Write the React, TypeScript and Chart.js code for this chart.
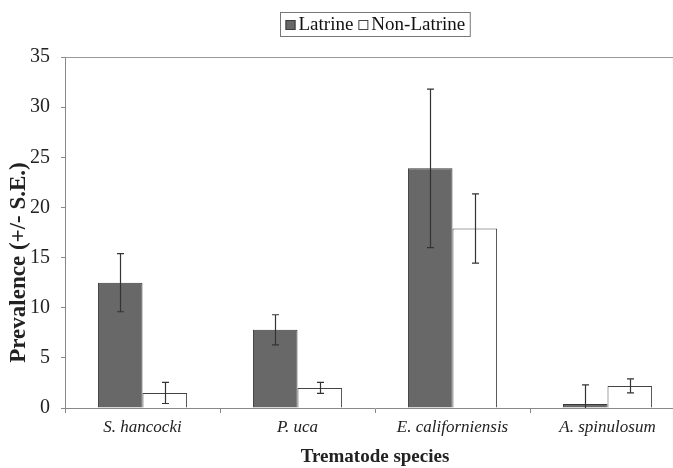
import React, { useEffect, useRef } from "react";
import { Chart, registerables } from "chart.js";

Chart.register(...registerables);

const categories = ["S. hancocki", "P. uca", "E. californiensis", "A. spinulosum"];
const seriesNames = ["Latrine", "Non-Latrine"];
const latrine = [12.5, 7.8, 23.9, 0.4];
const latrineSE = [2.9, 1.5, 7.9, 1.9];
const nonLatrine = [1.5, 2.0, 17.9, 2.2];
const nonLatrineSE = [1.05, 0.55, 3.45, 0.7];
const yMax = 35;
const yStep = 5;
const yTitle = "Prevalence (+/- S.E.)";
const xTitle = "Trematode species";

const SERIF = "'Liberation Serif', 'Times New Roman', serif";
const errors = [latrineSE, nonLatrineSE];
const fills = ["#686868", "#ffffff"];
const borders = ["#3a3a3a", "#444444"];

const errorBarPlugin = {
  id: "errorBars",
  afterDatasetsDraw(chart: any) {
    const { ctx, chartArea } = chart;
    const yScale = chart.scales.y;
    ctx.save();
    ctx.beginPath();
    ctx.rect(chartArea.left, chartArea.top - 2, chartArea.right - chartArea.left, chartArea.bottom - chartArea.top + 2);
    ctx.clip();
    ctx.strokeStyle = "#333";
    ctx.lineWidth = 1.2;
    chart.data.datasets.forEach((ds: any, i: number) => {
      const meta = chart.getDatasetMeta(i);
      meta.data.forEach((bar: any, j: number) => {
        const v = ds.data[j];
        const se = errors[i][j];
        const x = Math.round(bar.x) + 0.5;
        const yt = yScale.getPixelForValue(v + se);
        const yb = yScale.getPixelForValue(v - se);
        ctx.beginPath();
        ctx.moveTo(x, yt);
        ctx.lineTo(x, yb);
        ctx.moveTo(x - 3.5, yt);
        ctx.lineTo(x + 3.5, yt);
        ctx.moveTo(x - 3.5, yb);
        ctx.lineTo(x + 3.5, yb);
        ctx.stroke();
      });
    });
    ctx.restore();
  },
};

const framePlugin = {
  id: "frame",
  afterDraw(chart: any) {
    const { ctx, chartArea } = chart;
    ctx.save();
    const yTop = Math.round(chart.scales.y.getPixelForValue(yMax)) + 0.5;
    ctx.strokeStyle = "#999";
    ctx.lineWidth = 1;
    ctx.beginPath();
    ctx.moveTo(chartArea.left, yTop);
    ctx.lineTo(chartArea.right, yTop);
    ctx.stroke();

    // y-axis title
    ctx.save();
    ctx.font = `bold 23px ${SERIF}`;
    ctx.fillStyle = "#222";
    ctx.textAlign = "center";
    ctx.textBaseline = "alphabetic";
    ctx.translate(25, (chartArea.top + chartArea.bottom) / 2 + 30);
    ctx.rotate(-Math.PI / 2);
    ctx.fillText(yTitle, 0, 0);
    ctx.restore();

    // legend
    ctx.font = `19px ${SERIF}`;
    ctx.textBaseline = "middle";
    ctx.textAlign = "left";
    const box = 10;
    const gap = 3;
    const itemGap = 5;
    const pad = 5;
    const widths = seriesNames.map((n) => ctx.measureText(n).width);
    const total = pad * 2 + widths.reduce((a, w) => a + box + gap + w, 0) + itemGap;
    const cx = (chartArea.left + chartArea.right) / 2;
    const x = Math.round(cx - total / 2) + 0.5;
    const top = 12.5;
    const h = 24;
    ctx.strokeStyle = "#777";
    ctx.strokeRect(x, top, total, h);
    const cy = top + h / 2 + 0.5;
    let px = x + pad;
    seriesNames.forEach((n, i) => {
      ctx.fillStyle = fills[i];
      ctx.fillRect(px, Math.round(cy - box / 2), box, box);
      ctx.strokeStyle = borders[i];
      ctx.strokeRect(px + 0.5, Math.round(cy - box / 2) + 0.5, box - 1, box - 1);
      px += box + gap;
      ctx.fillStyle = "#111";
      ctx.fillText(n, px, cy);
      px += widths[i] + itemGap;
    });
    ctx.restore();
  },
};

export default function App() {
  const ref = useRef<HTMLCanvasElement>(null);
  useEffect(() => {
    if (!ref.current) return;
    const chart = new Chart(ref.current, {
      type: "bar",
      data: {
        labels: categories,
        datasets: [
          {
            label: seriesNames[0],
            data: latrine,
            backgroundColor: fills[0],
            borderColor: borders[0],
            borderWidth: 1,
          },
          {
            label: seriesNames[1],
            data: nonLatrine,
            backgroundColor: fills[1],
            borderColor: borders[1],
            borderWidth: 1,
          },
        ],
      },
      options: {
        responsive: false,
        animation: false,
        layout: { padding: { top: 57, right: 15, left: 0, bottom: 0 } },
        datasets: { bar: { barPercentage: 1, categoryPercentage: 0.575 } },
        plugins: { legend: { display: false }, tooltip: { enabled: false } },
        scales: {
          x: {
            offset: true,
            afterFit: (s: any) => {
              s.height = 60;
            },
            grid: { offset: true, drawOnChartArea: false, tickLength: 5, color: "#888" },
            border: { color: "#888" },
            ticks: {
              color: "#222",
              font: { family: SERIF, size: 17, style: "italic" },
              padding: 4,
            },
            title: {
              display: true,
              text: xTitle,
              color: "#222",
              font: { family: SERIF, size: 19, weight: "bold" },
              padding: { top: 2, bottom: 0 },
            },
          },
          y: {
            min: 0,
            max: yMax,
            afterFit: (s: any) => {
              s.width = 65;
            },
            grid: { drawOnChartArea: false, tickLength: 4, color: "#888" },
            border: { color: "#888" },
            ticks: {
              stepSize: yStep,
              color: "#222",
              font: { family: SERIF, size: 20 },
              padding: 11,
            },
          },
        },
      },
      plugins: [errorBarPlugin, framePlugin],
    });
    return () => chart.destroy();
  }, []);
  return (
    <div style={{ position: "fixed", left: 0, top: 0, width: 673, height: 468, overflow: "hidden", background: "#fff" }}>
      <canvas ref={ref} width={700} height={468} style={{ width: 700, height: 468, display: "block" }} />
    </div>
  );
}
